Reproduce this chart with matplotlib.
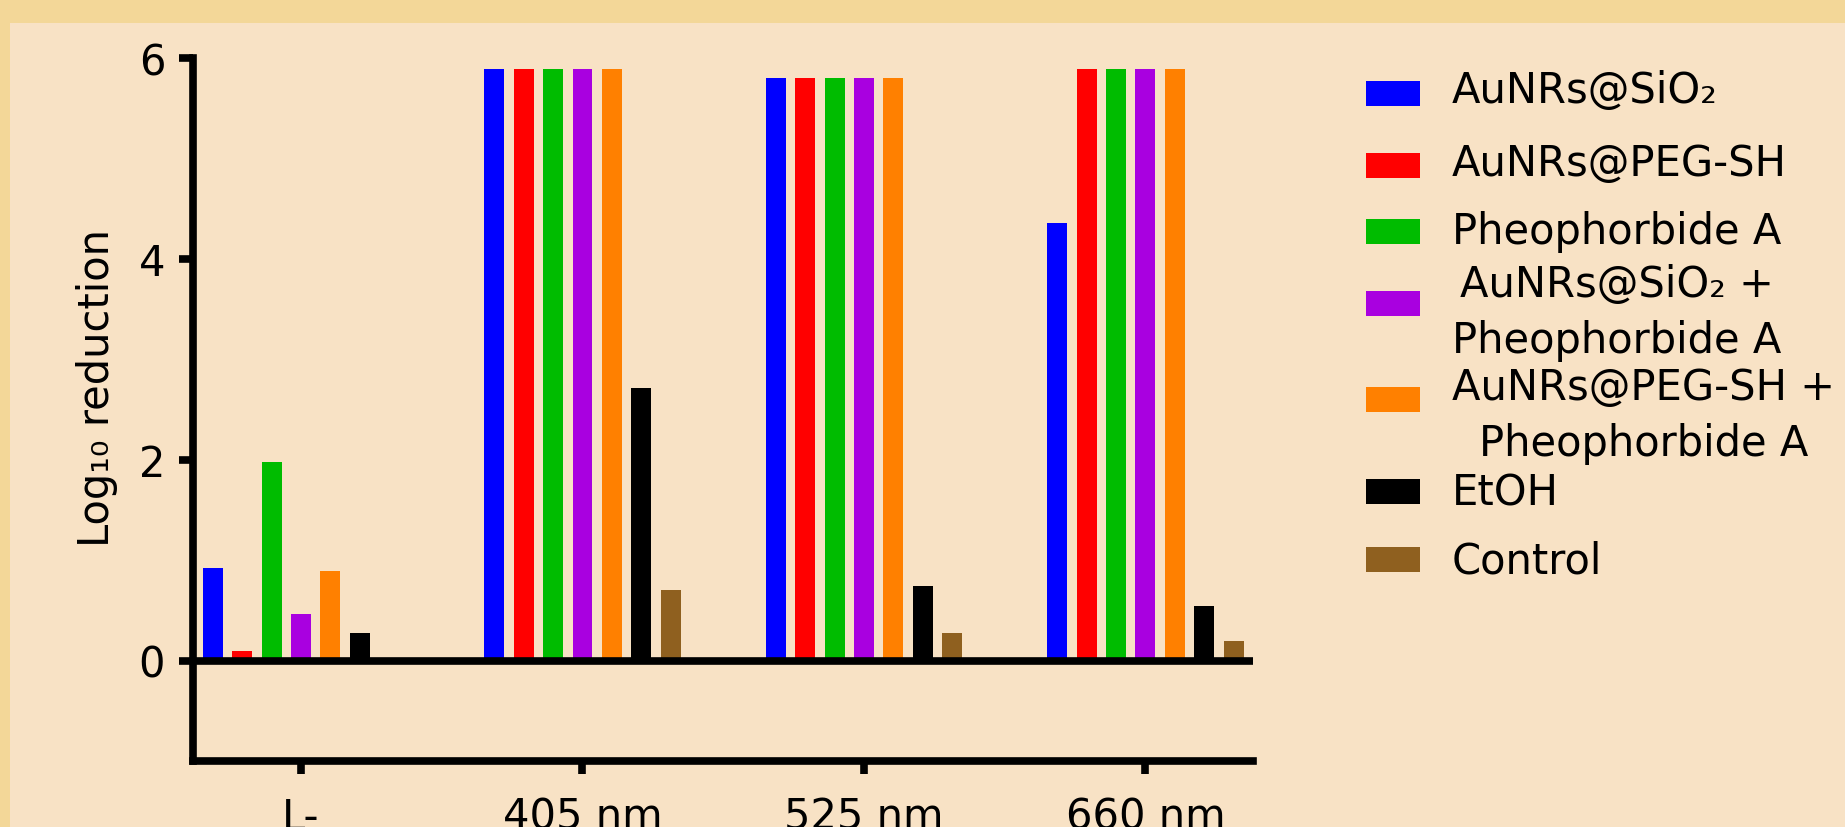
import matplotlib
matplotlib.use('Agg')
import matplotlib.pyplot as plt
import numpy as np
from matplotlib.patches import Rectangle

# ---------------- data ----------------
groups = ['L-', '405 nm', '525 nm', '660 nm']
series = ['AuNRs@SiO₂', 'AuNRs@PEG-SH', 'Pheophorbide A',
          'AuNRs@SiO₂ +\nPheophorbide A', 'AuNRs@PEG-SH +\nPheophorbide A',
          'EtOH', 'Control']
aunrs_sio2 = [0.92, 5.89, 5.80, 4.35]
aunrs_peg = [0.09, 5.89, 5.80, 5.89]
pheo_a = [1.98, 5.89, 5.80, 5.89]
sio2_pheo = [0.46, 5.89, 5.80, 5.89]
peg_pheo = [0.89, 5.89, 5.80, 5.89]
etoh = [0.27, 2.71, 0.74, 0.54]
control = [0.0, 0.70, 0.27, 0.19]
yticks = [0, 2, 4, 6]
colors = ['#0000FF', '#FF0000', '#00BC00', '#A900E0', '#FF8000', '#000000', '#8F601F']

values = [aunrs_sio2, aunrs_peg, pheo_a, sio2_pheo, peg_pheo, etoh, control]

# ---------------- figure ----------------
W, H = 1845, 828
fig = plt.figure(figsize=(W / 100, H / 100), dpi=100)
fig.patch.set_facecolor('#F3D798')
fig.add_artist(Rectangle((10 / W, 0), 1 - 10 / W, 1 - 24 / H, transform=fig.transFigure,
                         facecolor='#F8E2C5', edgecolor='none', zorder=-10))

ax_left, ax_right, ax_top, ax_bottom = 193, 1253, 58.5, 762
ax = fig.add_axes([ax_left / W, 1 - ax_bottom / H, (ax_right - ax_left) / W, (ax_bottom - ax_top) / H])
ax.set_facecolor('none')

FS = 30
LW = 5.5
x = np.arange(len(groups))
pitch = 0.1045
width = 0.071
n = len(series)
for i, (vals, c) in enumerate(zip(values, colors)):
    ax.bar(x + (i - (n - 1) / 2) * pitch, vals, width=width, color=c, edgecolor='none', zorder=2)

ax.axhline(0, color='black', lw=LW, zorder=3, solid_capstyle='butt')

ax.set_xlim(-0.3837, 3.382)
ax.set_ylim(-1, 6)
ax.set_yticks(yticks)
ax.set_xticks(x)
ax.set_xticklabels(groups)

for s in ['top', 'right']:
    ax.spines[s].set_visible(False)
for s in ['left', 'bottom']:
    ax.spines[s].set_linewidth(LW)
    ax.spines[s].set_capstyle('projecting')

ax.tick_params(axis='y', direction='out', width=LW, length=10, pad=10, labelsize=FS)
ax.tick_params(axis='x', direction='out', width=LW, length=9.5, pad=15.5, labelsize=FS)

ax.set_ylabel('Log₁₀ reduction', fontsize=FS)
ax.yaxis.set_label_coords(-0.0705, 0.532)

# ---------------- legend (manual layout) ----------------
handle_y = [94, 166, 232, 304, 400, 492, 560]
text_y = [91, 164, 232, 313, 416, 494, 561]
hx0, hx1, hh = 1366, 1420, 25
tx = 1452
for lab, c, hy, ty in zip(series, colors, handle_y, text_y):
    fig.add_artist(Rectangle((hx0 / W, 1 - (hy + hh / 2) / H), (hx1 - hx0) / W, hh / H,
                             transform=fig.transFigure, facecolor=c, edgecolor='none'))
    fig.text(tx / W, 1 - ty / H, lab, fontsize=FS, ha='left', va='center',
             multialignment='center', linespacing=1.45)

fig.savefig('out.png', dpi=100, facecolor=fig.get_facecolor())
